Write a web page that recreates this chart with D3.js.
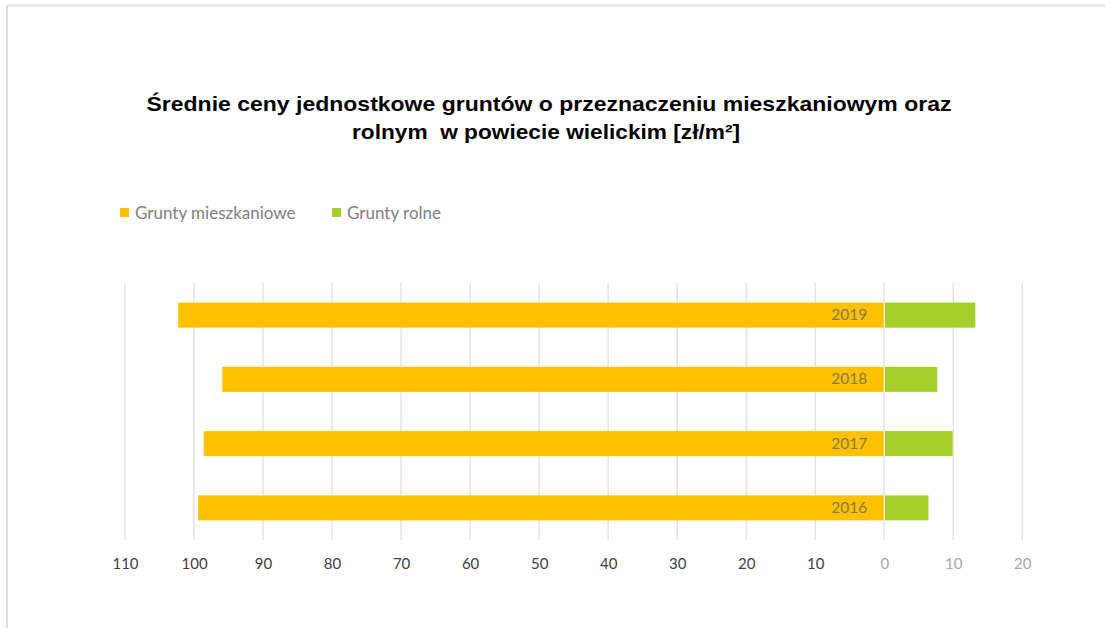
<!DOCTYPE html>
<html>
<head>
<meta charset="utf-8">
<script src="https://cdn.jsdelivr.net/npm/d3@7"></script>
<style>
  html, body { margin: 0; padding: 0; background: #fff; }
  svg { display: block; }
</style>
</head>
<body>
<svg id="chart" width="1105" height="628"></svg>
<script>
const years = ["2019", "2018", "2017", "2016"];
const residential = [102.3, 95.9, 98.6, 99.4];
const agricultural = [13.2, 7.7, 9.9, 6.4];
const tickValues = [-110, -100, -90, -80, -70, -60, -50, -40, -30, -20, -10, 0, 10, 20];
const seriesNames = ["Grunty mieszkaniowe", "Grunty rolne"];
const seriesColors = ["#FFC000", "#A5CF2A"];
const titleLines = ["Średnie ceny jednostkowe gruntów o przeznaczeniu mieszkaniowym oraz", "rolnym  w powiecie wielickim [zł/m²]"];

const svg = d3.select("#chart");

// frame (top and left light lines)
svg.append("line").attr("x1", 7).attr("x2", 1105).attr("y1", 5.5).attr("y2", 5.5)
  .attr("stroke", "#dedede").attr("stroke-width", 2);
svg.append("line").attr("x1", 7).attr("x2", 7).attr("y1", 5.5).attr("y2", 628)
  .attr("stroke", "#dedede").attr("stroke-width", 2);

// title
const titleFont = "'Liberation Sans Narrow', 'Arial Narrow', 'Liberation Sans', Arial, sans-serif";
const tl = [[549, 111, 805], [546, 139, 388]];
titleLines.forEach((t, i) => {
  svg.append("text")
    .attr("x", tl[i][0]).attr("y", tl[i][1])
    .attr("text-anchor", "middle")
    .attr("font-family", titleFont)
    .attr("font-weight", "bold")
    .attr("font-size", 21)
    .attr("fill", "#000")
    .attr("textLength", tl[i][2])
    .attr("lengthAdjust", "spacingAndGlyphs")
    .style("white-space", "pre")
    .text(t);
});

// scales
const x = d3.scaleLinear().domain([-110, 20]).range([125, 1022.3]);
const y = d3.scaleBand().domain(years).range([283, 540]).padding(0);
const barH = 25;

// gridlines
svg.append("g").selectAll("line").data(tickValues).join("line")
  .attr("x1", d => x(d)).attr("x2", d => x(d))
  .attr("y1", 283).attr("y2", 540)
  .attr("stroke", "#e3e3e3").attr("stroke-width", 1.5);

// bars residential (negative side)
svg.append("g").selectAll("rect").data(years).join("rect")
  .attr("x", (d, i) => x(-residential[i]))
  .attr("width", (d, i) => x(0) - x(-residential[i]))
  .attr("y", d => y(d) + y.bandwidth() / 2 - barH / 2)
  .attr("height", barH)
  .attr("fill", seriesColors[0]);

svg.append("g").selectAll("rect").data(years).join("rect")
  .attr("x", x(0))
  .attr("width", (d, i) => x(agricultural[i]) - x(0))
  .attr("y", d => y(d) + y.bandwidth() / 2 - barH / 2)
  .attr("height", barH)
  .attr("fill", seriesColors[1]);

// zero line separator
svg.append("line").attr("x1", x(0)).attr("x2", x(0)).attr("y1", 283).attr("y2", 540)
  .attr("stroke", "#e8e8e8").attr("stroke-width", 1.5);

// year labels
svg.append("g").selectAll("text").data(years).join("text")
  .attr("x", x(0) - 17)
  .attr("y", d => y(d) + y.bandwidth() / 2 + 5)
  .attr("text-anchor", "end")
  .attr("font-family", "Lato, 'Open Sans', sans-serif")
  .attr("font-size", 15.5)
  .attr("fill", "#8a7a42")
  .text(d => d);

// x axis labels
const axis = d3.axisBottom(x).tickValues(tickValues).tickSize(0).tickFormat(d => Math.abs(d));
const ag = svg.append("g").attr("transform", "translate(0,555)").call(axis);
ag.select(".domain").remove();
ag.selectAll("text")
  .attr("font-family", "Lato, 'Open Sans', sans-serif")
  .attr("font-size", 15)
  .attr("fill", d => d >= 0 ? "#a6a6a6" : "#404040");

// legend
const legX = [120, 332];
seriesNames.forEach((n, i) => {
  svg.append("rect").attr("x", legX[i]).attr("y", 208).attr("width", 9).attr("height", 9)
    .attr("fill", seriesColors[i]);
  svg.append("text").attr("x", legX[i] + 15).attr("y", 219)
    .attr("font-family", "Lato, 'Open Sans', sans-serif")
    .attr("font-size", 17)
    .attr("fill", "#808080")
    .text(n);
});
</script>
</body>
</html>
